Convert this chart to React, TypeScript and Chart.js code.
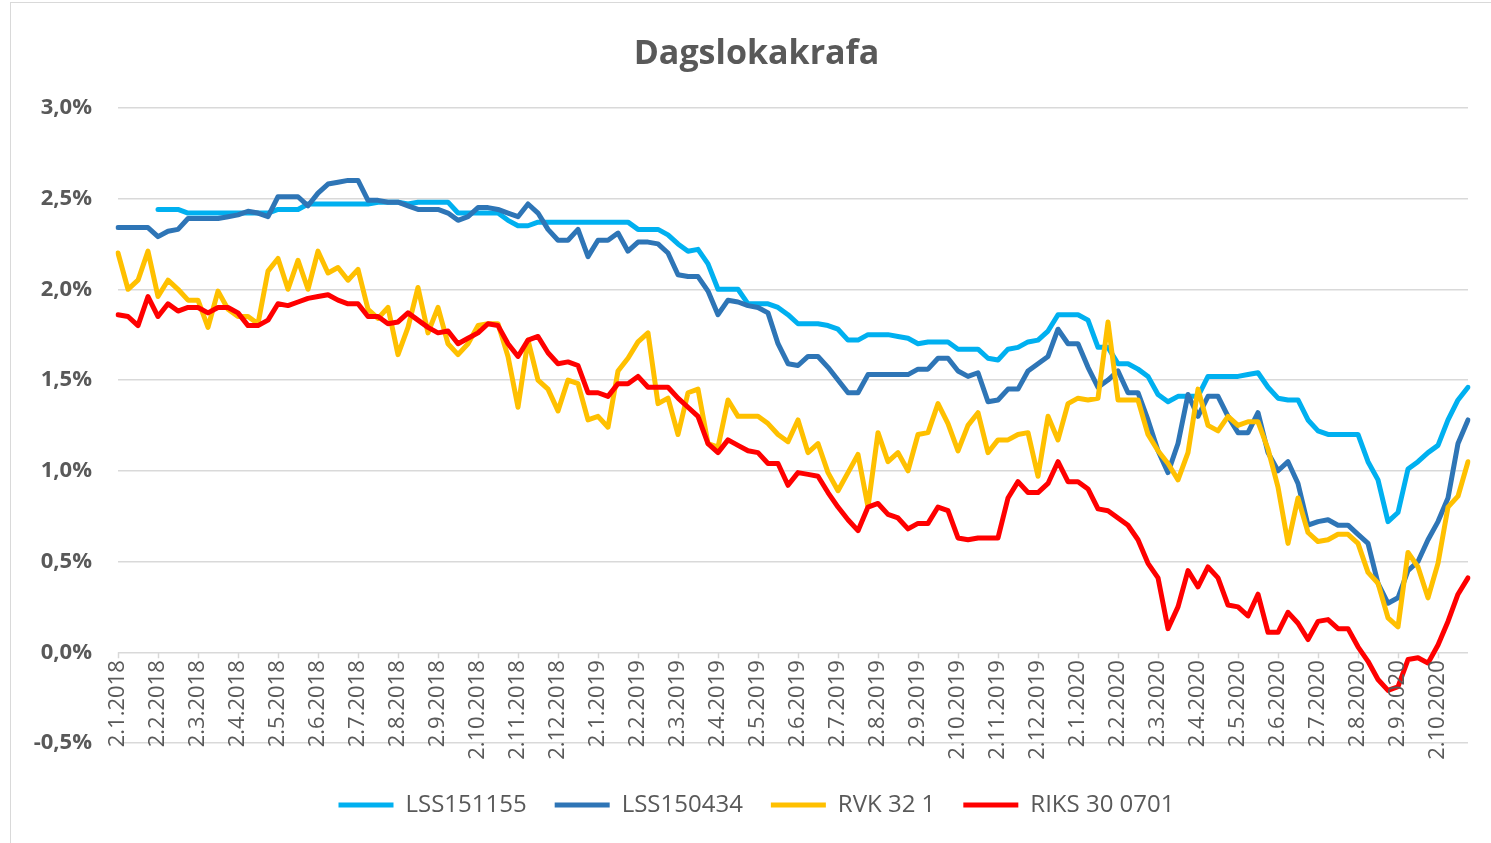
import { useEffect, useRef } from "react";
import { Chart, registerables } from "chart.js";

Chart.register(...registerables);

const monthLabels = [
  "2.1.2018", "2.2.2018", "2.3.2018", "2.4.2018", "2.5.2018", "2.6.2018",
  "2.7.2018", "2.8.2018", "2.9.2018", "2.10.2018", "2.11.2018", "2.12.2018",
  "2.1.2019", "2.2.2019", "2.3.2019", "2.4.2019", "2.5.2019", "2.6.2019",
  "2.7.2019", "2.8.2019", "2.9.2019", "2.10.2019", "2.11.2019", "2.12.2019",
  "2.1.2020", "2.2.2020", "2.3.2020", "2.4.2020", "2.5.2020", "2.6.2020",
  "2.7.2020", "2.8.2020", "2.9.2020", "2.10.2020",
];
const weekDays = [2, 9, 16, 23];
const lastMonthDays = [2, 9, 16, 22];

const seriesNames = ["LSS151155", "LSS150434", "RVK 32 1", "RIKS 30 0701"];
const seriesColors = ["#00B0F0", "#2E75B6", "#FFC000", "#FF0000"];

const lss151155 = [
  null, null, null, null,
  2.44, 2.44, 2.44, 2.42,
  2.42, 2.42, 2.42, 2.42,
  2.42, 2.42, 2.42, 2.42,
  2.44, 2.44, 2.44, 2.47,
  2.47, 2.47, 2.47, 2.47,
  2.47, 2.47, 2.48, 2.48,
  2.48, 2.47, 2.48, 2.48,
  2.48, 2.48, 2.42, 2.42,
  2.42, 2.42, 2.42, 2.38,
  2.35, 2.35, 2.37, 2.37,
  2.37, 2.37, 2.37, 2.37,
  2.37, 2.37, 2.37, 2.37,
  2.33, 2.33, 2.33, 2.30,
  2.25, 2.21, 2.22, 2.14,
  2.00, 2.00, 2.00, 1.92,
  1.92, 1.92, 1.90, 1.86,
  1.81, 1.81, 1.81, 1.80,
  1.78, 1.72, 1.72, 1.75,
  1.75, 1.75, 1.74, 1.73,
  1.70, 1.71, 1.71, 1.71,
  1.67, 1.67, 1.67, 1.62,
  1.61, 1.67, 1.68, 1.71,
  1.72, 1.77, 1.86, 1.86,
  1.86, 1.83, 1.68, 1.68,
  1.59, 1.59, 1.56, 1.52,
  1.42, 1.38, 1.41, 1.41,
  1.41, 1.52, 1.52, 1.52,
  1.52, 1.53, 1.54, 1.46,
  1.40, 1.39, 1.39, 1.28,
  1.22, 1.20, 1.20, 1.20,
  1.20, 1.05, 0.95, 0.72,
  0.77, 1.01, 1.05, 1.10,
  1.14, 1.28, 1.39, 1.46,
];

const lss150434 = [
  2.34, 2.34, 2.34, 2.34,
  2.29, 2.32, 2.33, 2.39,
  2.39, 2.39, 2.39, 2.40,
  2.41, 2.43, 2.42, 2.40,
  2.51, 2.51, 2.51, 2.46,
  2.53, 2.58, 2.59, 2.60,
  2.60, 2.49, 2.49, 2.48,
  2.48, 2.46, 2.44, 2.44,
  2.44, 2.42, 2.38, 2.40,
  2.45, 2.45, 2.44, 2.42,
  2.40, 2.47, 2.42, 2.33,
  2.27, 2.27, 2.33, 2.18,
  2.27, 2.27, 2.31, 2.21,
  2.26, 2.26, 2.25, 2.20,
  2.08, 2.07, 2.07, 1.99,
  1.86, 1.94, 1.93, 1.91,
  1.90, 1.87, 1.70, 1.59,
  1.58, 1.63, 1.63, 1.57,
  1.50, 1.43, 1.43, 1.53,
  1.53, 1.53, 1.53, 1.53,
  1.56, 1.56, 1.62, 1.62,
  1.55, 1.52, 1.54, 1.38,
  1.39, 1.45, 1.45, 1.55,
  1.59, 1.63, 1.78, 1.70,
  1.70, 1.57, 1.46, 1.50,
  1.55, 1.43, 1.43, 1.28,
  1.11, 0.99, 1.15, 1.42,
  1.30, 1.41, 1.41, 1.30,
  1.21, 1.21, 1.32, 1.10,
  1.00, 1.05, 0.93, 0.70,
  0.72, 0.73, 0.70, 0.70,
  0.65, 0.60, 0.38, 0.27,
  0.30, 0.45, 0.50, 0.62,
  0.72, 0.85, 1.15, 1.28,
];

const rvk321 = [
  2.20, 2.00, 2.05, 2.21,
  1.96, 2.05, 2.00, 1.94,
  1.94, 1.79, 1.99, 1.89,
  1.85, 1.85, 1.81, 2.10,
  2.17, 2.00, 2.16, 2.00,
  2.21, 2.09, 2.12, 2.05,
  2.11, 1.89, 1.84, 1.90,
  1.64, 1.79, 2.01, 1.76,
  1.90, 1.70, 1.64, 1.70,
  1.80, 1.81, 1.81, 1.63,
  1.35, 1.72, 1.50, 1.45,
  1.33, 1.50, 1.48, 1.28,
  1.30, 1.24, 1.55, 1.62,
  1.71, 1.76, 1.37, 1.40,
  1.20, 1.43, 1.45, 1.15,
  1.13, 1.39, 1.30, 1.30,
  1.30, 1.26, 1.20, 1.16,
  1.28, 1.10, 1.15, 0.99,
  0.89, 0.99, 1.09, 0.80,
  1.21, 1.05, 1.10, 1.00,
  1.20, 1.21, 1.37, 1.26,
  1.11, 1.25, 1.32, 1.10,
  1.17, 1.17, 1.20, 1.21,
  0.97, 1.30, 1.17, 1.37,
  1.40, 1.39, 1.40, 1.82,
  1.39, 1.39, 1.39, 1.20,
  1.11, 1.04, 0.95, 1.10,
  1.45, 1.25, 1.22, 1.30,
  1.25, 1.27, 1.27, 1.12,
  0.91, 0.60, 0.85, 0.66,
  0.61, 0.62, 0.65, 0.65,
  0.60, 0.44, 0.38, 0.19,
  0.14, 0.55, 0.47, 0.30,
  0.49, 0.80, 0.86, 1.05,
];

const riks300701 = [
  1.86, 1.85, 1.80, 1.96,
  1.85, 1.92, 1.88, 1.90,
  1.90, 1.87, 1.90, 1.90,
  1.87, 1.80, 1.80, 1.83,
  1.92, 1.91, 1.93, 1.95,
  1.96, 1.97, 1.94, 1.92,
  1.92, 1.85, 1.85, 1.81,
  1.82, 1.87, 1.83, 1.79,
  1.76, 1.77, 1.70, 1.73,
  1.76, 1.81, 1.80, 1.70,
  1.63, 1.72, 1.74, 1.65,
  1.59, 1.60, 1.58, 1.43,
  1.43, 1.41, 1.48, 1.48,
  1.52, 1.46, 1.46, 1.46,
  1.40, 1.35, 1.30, 1.15,
  1.10, 1.17, 1.14, 1.11,
  1.10, 1.04, 1.04, 0.92,
  0.99, 0.98, 0.97, 0.88,
  0.80, 0.73, 0.67, 0.80,
  0.82, 0.76, 0.74, 0.68,
  0.71, 0.71, 0.80, 0.78,
  0.63, 0.62, 0.63, 0.63,
  0.63, 0.85, 0.94, 0.88,
  0.88, 0.93, 1.05, 0.94,
  0.94, 0.90, 0.79, 0.78,
  0.74, 0.70, 0.62, 0.49,
  0.41, 0.13, 0.25, 0.45,
  0.36, 0.47, 0.41, 0.26,
  0.25, 0.20, 0.32, 0.11,
  0.11, 0.22, 0.16, 0.07,
  0.17, 0.18, 0.13, 0.13,
  0.03, -0.05, -0.15, -0.21,
  -0.19, -0.04, -0.03, -0.06,
  0.04, 0.17, 0.32, 0.41,
];

const yTicks = [-0.5, 0, 0.5, 1.0, 1.5, 2.0, 2.5, 3.0];

const FONT = "'Open Sans', 'DejaVu Sans', sans-serif";
const TEXT = "#595959";
const GRID = "#d9d9d9";

const categories: string[] = [];
monthLabels.forEach((m, i) => {
  const parts = m.split(".");
  const days = i === monthLabels.length - 1 ? lastMonthDays : weekDays;
  days.forEach((d) => categories.push(`${d}.${parts[1]}.${parts[2]}`));
});

const fmtPct = (v: number) => v.toFixed(1).replace(".", ",") + "%";

const axisTextPlugin = {
  id: "axisText",
  beforeDatasetsDraw(chart: any) {
    const { ctx, scales } = chart;
    const x = scales.x;
    const y0 = scales.y.getPixelForValue(0);
    ctx.save();
    ctx.strokeStyle = GRID;
    ctx.lineWidth = 1.5;
    monthLabels.forEach((_, m) => {
      const px = Math.round(x.getPixelForValue(m * 4)) + 0.5;
      ctx.beginPath();
      ctx.moveTo(px, y0);
      ctx.lineTo(px, y0 + 6);
      ctx.stroke();
    });
    ctx.restore();
  },
  afterDraw(chart: any) {
    const { ctx, scales, chartArea } = chart;
    const x = scales.x;
    const y = scales.y;
    const y0 = y.getPixelForValue(0);
    ctx.save();
    ctx.fillStyle = TEXT;
    ctx.font = `bold 22px ${FONT}`;
    ctx.textAlign = "right";
    ctx.textBaseline = "middle";
    yTicks.forEach((v) => {
      ctx.fillText(fmtPct(v), chartArea.left - 26, y.getPixelForValue(v));
    });
    ctx.font = `22px ${FONT}`;
    monthLabels.forEach((lab, m) => {
      const px = x.getPixelForValue(m * 4);
      ctx.save();
      ctx.translate(px, y0 + 8);
      ctx.rotate(-Math.PI / 2);
      ctx.fillText(lab, 0, 0);
      ctx.restore();
    });
    ctx.restore();
  },
};

export default function App() {
  const canvasRef = useRef<HTMLCanvasElement | null>(null);

  useEffect(() => {
    if (!canvasRef.current) return;
    const values = [lss151155, lss150434, rvk321, riks300701];
    const chart = new Chart(canvasRef.current, {
      type: "line",
      data: {
        labels: categories,
        datasets: seriesNames.map((name, i) => ({
          label: name,
          data: values[i],
          borderColor: seriesColors[i],
          backgroundColor: seriesColors[i],
          borderWidth: 5,
          pointRadius: 0,
          tension: 0,
          borderCapStyle: "round",
          borderJoinStyle: "round",
          order: seriesNames.length - i,
        })),
      },
      options: {
        animation: false,
        responsive: false,
        maintainAspectRatio: false,
        layout: { padding: { left: 45, right: 23, top: 0, bottom: 16 } },
        plugins: {
          title: {
            display: true,
            text: "Dagslokakrafa",
            color: TEXT,
            font: { family: FONT, size: 34, weight: "bold" },
            padding: { top: 34, bottom: 33 },
          },
          legend: {
            position: "bottom",
            labels: {
              color: TEXT,
              font: { family: FONT, size: 24 },
              usePointStyle: true,
              pointStyle: "line",
              pointStyleWidth: 55,
              boxWidth: 55,
              padding: 28,
              sort: (a: any, b: any) => a.datasetIndex - b.datasetIndex,
            },
          },
          tooltip: { enabled: false },
        },
        scales: {
          x: {
            type: "category",
            display: true,
            grid: { display: false },
            border: { display: false },
            ticks: { display: false },
            afterFit: (s: any) => {
              s.height = 22;
            },
          },
          y: {
            min: -0.5,
            max: 3.0,
            afterBuildTicks: (s: any) => {
              s.ticks = yTicks.map((v) => ({ value: v }));
            },
            grid: { color: GRID, lineWidth: 1.5, drawTicks: false },
            border: { display: false },
            ticks: { display: false },
            afterFit: (s: any) => {
              s.width = 73;
            },
          },
        },
      },
      plugins: [axisTextPlugin],
    });
    return () => chart.destroy();
  }, []);

  return (
    <div style={{ position: "fixed", left: 0, top: 0, width: 1491, height: 843, background: "#fff" }}>
      <div
        style={{
          position: "absolute",
          left: 10,
          top: 2,
          width: 1500,
          height: 860,
          border: "1.5px solid #d9d9d9",
          boxSizing: "border-box",
        }}
      />
      <canvas ref={canvasRef} width={1491} height={843} style={{ position: "absolute", left: 0, top: 0 }} />
    </div>
  );
}
